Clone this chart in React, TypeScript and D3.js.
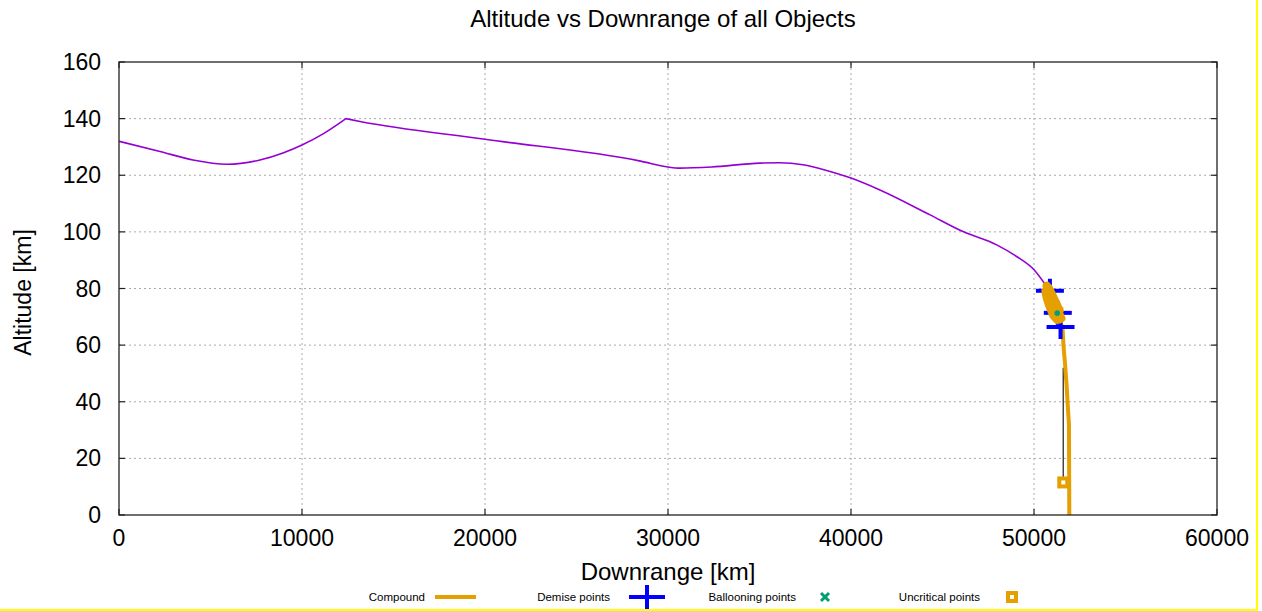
import React, { useEffect, useRef } from "react";
import * as d3 from "d3";

const xTicks = [0, 10000, 20000, 30000, 40000, 50000, 60000];
const yTicks = [0, 20, 40, 60, 80, 100, 120, 140, 160];

// main object trajectory (purple), split at the kink near 12400 km
const trajDownrange = [0, 2240, 4040, 5900, 7700, 8960, 10000, 11200, 12400, 13170, 20000, 28500, 30000, 30650, 32390, 35030, 36120, 37380, 38670, 40000, 41580, 44320, 46120, 47960, 49050, 50000, 50690];
const trajAltitude = [132, 128.4, 125.4, 123.9, 125.4, 127.9, 130.7, 134.8, 140, 139, 132.7, 125, 122.9, 122.5, 122.9, 124.3, 124.4, 123.7, 121.7, 119, 114.8, 106, 100.1, 95.4, 91.3, 86.6, 80.7];
const kinkIndex = 8;

// compound fragment descending to ground (orange)
const compoundDownrange = [50690, 50800, 51000, 51200, 51400, 51560, 51600, 51640, 51700, 51780, 51850, 51910, 51930];
const compoundAltitude = [80.7, 78.5, 75, 72, 69, 66, 61, 57.5, 53, 46, 38, 32, 0];

// break-up fragments clustered around 70-80 km
const frag2Downrange = [50700, 50900, 51100, 51300, 51500];
const frag2Altitude = [81, 78.5, 75, 72, 69.5];
const frag3Downrange = [50620, 50700, 50850, 51050, 51250];
const frag3Altitude = [79, 76.5, 73.5, 70.5, 69];
const frag4Downrange = [50750, 50950, 51150, 51350];
const frag4Altitude = [80, 77.5, 74.5, 71];
const frag5Downrange = [50800, 51000, 51200, 51400];
const frag5Altitude = [80.3, 77.8, 75, 72.3];

// uncritical fragment falling (black)
const blackDownrange = [51600, 51600];
const blackAltitude = [52, 11.5];

const demiseDownrange = [50870, 51300, 51450];
const demiseAltitude = [79.2, 71.4, 66.4];

const balloonDownrange = [51270];
const balloonAltitude = [71.3];

const uncriticalDownrange = [51270, 51600];
const uncriticalAltitude = [71.3, 11.5];

const legendLabels = ["Compound", "Demise points", "Ballooning points", "Uncritical points"];

const PURPLE = "#9400d3";
const ORANGE = "#e69f00";
const BLUE = "#0000ff";
const GREEN = "#009e73";
const FONT = "'Liberation Sans', Arial, sans-serif";

const App = () => {
  const svgRef = useRef<SVGSVGElement>(null);

  useEffect(() => {
    const svg = d3.select(svgRef.current);
    svg.selectAll("*").remove();

    const width = 1262;
    const height = 611;
    const margin = { top: 62, right: 45, bottom: 96, left: 119 };

    svg.append("rect").attr("width", width).attr("height", height).attr("fill", "#fff");

    const x = d3.scaleLinear().domain([0, 60000]).range([margin.left, width - margin.right]);
    const y = d3.scaleLinear().domain([0, 160]).range([height - margin.bottom, margin.top]);

    // grid
    const grid = svg.append("g").attr("stroke", "#aaa").attr("stroke-width", 1).attr("stroke-dasharray", "2,3");
    xTicks.slice(1, -1).forEach((t) => {
      grid.append("line").attr("x1", x(t)).attr("x2", x(t)).attr("y1", y(0)).attr("y2", y(160));
    });
    yTicks.slice(1, -1).forEach((t) => {
      grid.append("line").attr("x1", x(0)).attr("x2", x(60000)).attr("y1", y(t)).attr("y2", y(t));
    });

    // ticks, mirrored and pointing inward
    const ticks = svg.append("g").attr("stroke", "#222").attr("stroke-width", 1.2);
    xTicks.forEach((t) => {
      ticks.append("line").attr("x1", x(t)).attr("x2", x(t)).attr("y1", y(0)).attr("y2", y(0) - 6);
      ticks.append("line").attr("x1", x(t)).attr("x2", x(t)).attr("y1", y(160)).attr("y2", y(160) + 6);
    });
    yTicks.forEach((t) => {
      ticks.append("line").attr("x1", x(0)).attr("x2", x(0) + 6).attr("y1", y(t)).attr("y2", y(t));
      ticks.append("line").attr("x1", x(60000)).attr("x2", x(60000) - 6).attr("y1", y(t)).attr("y2", y(t));
    });

    // tick labels
    xTicks.forEach((t) => {
      svg.append("text")
        .attr("x", x(t)).attr("y", y(0) + 31)
        .attr("text-anchor", "middle")
        .style("font-family", FONT).style("font-size", "23px")
        .text(t);
    });
    yTicks.forEach((t) => {
      svg.append("text")
        .attr("x", x(0) - 18).attr("y", y(t) + 8)
        .attr("text-anchor", "end")
        .style("font-family", FONT).style("font-size", "23px")
        .text(t);
    });

    const line = d3.line<[number, number]>()
      .x((d) => x(d[0]))
      .y((d) => y(d[1]));
    const smooth = d3.line<[number, number]>()
      .x((d) => x(d[0]))
      .y((d) => y(d[1]))
      .curve(d3.curveMonotoneX);
    const zip = (a: number[], b: number[]) => a.map((v, i) => [v, b[i]] as [number, number]);

    const traj = zip(trajDownrange, trajAltitude);
    [traj.slice(0, kinkIndex + 1), traj.slice(kinkIndex)].forEach((seg) => {
      svg.append("path")
        .datum(seg)
        .attr("fill", "none").attr("stroke", PURPLE).attr("stroke-width", 1.6)
        .attr("d", smooth);
    });

    svg.append("path")
      .datum(zip(blackDownrange, blackAltitude))
      .attr("fill", "none").attr("stroke", "#444").attr("stroke-width", 1.5)
      .attr("d", line);

    svg.append("path")
      .datum(zip(compoundDownrange, compoundAltitude))
      .attr("fill", "none").attr("stroke", ORANGE).attr("stroke-width", 4)
      .attr("d", line);

    const plus = (g: any, cx: number, cy: number, hw: number, hh: number) => {
      g.append("line").attr("x1", cx - hw).attr("x2", cx + hw).attr("y1", cy).attr("y2", cy);
      g.append("line").attr("x1", cx).attr("x2", cx).attr("y1", cy - hh).attr("y2", cy + hh);
    };

    const demise = svg.append("g").attr("stroke", BLUE).attr("stroke-width", 4);
    demiseDownrange.forEach((d, i) => plus(demise, x(d), y(demiseAltitude[i]), 14, 12));

    [
      zip(frag2Downrange, frag2Altitude),
      zip(frag3Downrange, frag3Altitude),
      zip(frag4Downrange, frag4Altitude),
      zip(frag5Downrange, frag5Altitude),
      zip(compoundDownrange.slice(0, 5), compoundAltitude.slice(0, 5)),
    ].forEach((f) => {
      svg.append("path")
        .datum(f)
        .attr("fill", "none").attr("stroke", ORANGE).attr("stroke-width", 8)
        .attr("stroke-linecap", "round")
        .attr("d", line);
    });

    uncriticalDownrange.forEach((d, i) => {
      svg.append("rect")
        .attr("x", x(d) - 4).attr("y", y(uncriticalAltitude[i]) - 4)
        .attr("width", 8).attr("height", 8)
        .attr("fill", "#fff").attr("stroke", ORANGE).attr("stroke-width", 4);
    });

    const cross = (g: any, cx: number, cy: number, r: number) => {
      g.append("line").attr("x1", cx - r).attr("x2", cx + r).attr("y1", cy - r).attr("y2", cy + r);
      g.append("line").attr("x1", cx - r).attr("x2", cx + r).attr("y1", cy + r).attr("y2", cy - r);
    };
    const balloon = svg.append("g").attr("stroke", GREEN).attr("stroke-width", 3);
    balloonDownrange.forEach((d, i) => cross(balloon, x(d), y(balloonAltitude[i]), 2));

    // frame
    svg.append("rect")
      .attr("x", x(0)).attr("y", y(160))
      .attr("width", x(60000) - x(0)).attr("height", y(0) - y(160))
      .attr("fill", "none").attr("stroke", "#222").attr("stroke-width", 1.3);

    // titles
    svg.append("text")
      .attr("x", 663).attr("y", 27)
      .attr("text-anchor", "middle")
      .style("font-family", FONT).style("font-size", "24px")
      .text("Altitude vs Downrange of all Objects");
    svg.append("text")
      .attr("x", (x(0) + x(60000)) / 2).attr("y", 580)
      .attr("text-anchor", "middle")
      .style("font-family", FONT).style("font-size", "24px")
      .text("Downrange [km]");
    svg.append("text")
      .attr("transform", `translate(31,${(y(0) + y(160)) / 2 + 4}) rotate(-90)`)
      .attr("text-anchor", "middle")
      .style("font-family", FONT).style("font-size", "23px")
      .text("Altitude [km]");

    // legend
    const legendEnds = [425, 610, 796, 980];
    const ly = 597;
    legendLabels.forEach((label, i) => {
      svg.append("text")
        .attr("x", legendEnds[i]).attr("y", ly + 4)
        .attr("text-anchor", "end")
        .style("font-family", FONT).style("font-size", "11.5px")
        .text(label);
    });
    svg.append("line")
      .attr("x1", legendEnds[0] + 10).attr("x2", legendEnds[0] + 51)
      .attr("y1", ly).attr("y2", ly)
      .attr("stroke", ORANGE).attr("stroke-width", 4);
    const legPlus = svg.append("g").attr("stroke", BLUE).attr("stroke-width", 4);
    plus(legPlus, legendEnds[1] + 37, ly, 18, 12);
    const legCross = svg.append("g").attr("stroke", GREEN).attr("stroke-width", 3);
    cross(legCross, legendEnds[2] + 29, ly, 4);
    svg.append("rect")
      .attr("x", legendEnds[3] + 28).attr("y", ly - 4)
      .attr("width", 8).attr("height", 8)
      .attr("fill", "#fff").attr("stroke", ORANGE).attr("stroke-width", 4);

    // yellow border of the image
    svg.append("line").attr("x1", 1257).attr("x2", 1257).attr("y1", 0).attr("y2", 611)
      .attr("stroke", "#ffff00").attr("stroke-width", 2);
    svg.append("line").attr("x1", 0).attr("x2", 1258).attr("y1", 610).attr("y2", 610)
      .attr("stroke", "#ffff00").attr("stroke-width", 2);
  }, []);

  return (
    <svg
      ref={svgRef}
      width={1262}
      height={611}
      style={{ position: "absolute", left: 0, top: 0, display: "block" }}
    ></svg>
  );
};

export default App;
